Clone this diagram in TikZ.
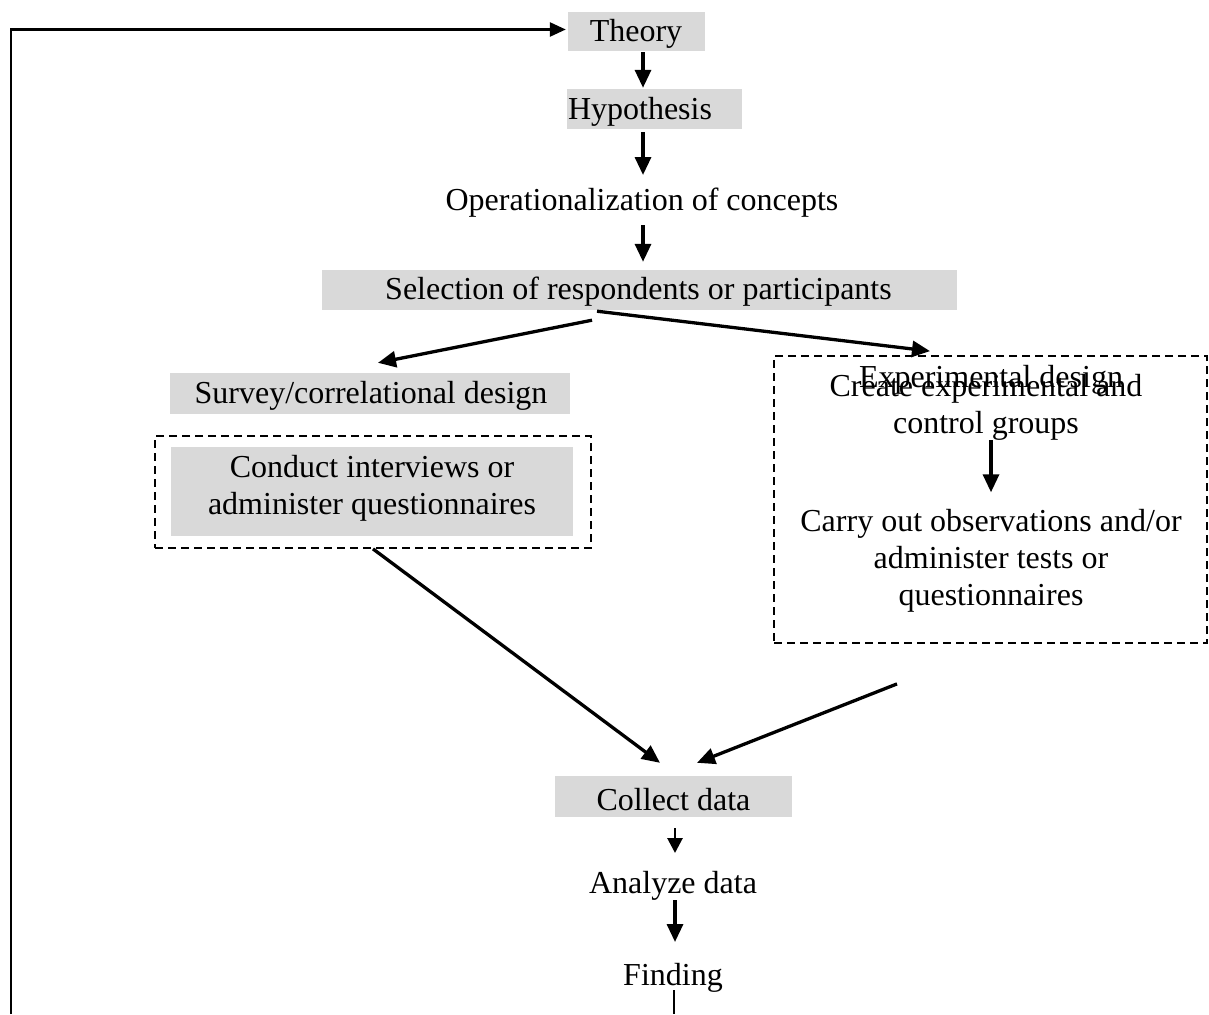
\documentclass[tikz,border=0pt]{standalone}
\usepackage{fontspec}
\setmainfont{Liberation Serif}
\usetikzlibrary{arrows.meta}
\definecolor{boxgray}{HTML}{D9D9D9}
\begin{document}
\begin{tikzpicture}[x=1pt,y=-1pt,
  font=\fontsize{32}{37}\selectfont,
  graybox/.style={fill=boxgray,draw=none,inner sep=0pt},
  frame/.style={draw,line width=1.8pt,dash pattern=on 8pt off 5pt,inner sep=0pt},
  txt/.style={inner sep=0pt,align=center},
  arr/.style={line width=3.3pt,-{Triangle[length=18pt,width=16pt]}},
  feed/.style={line width=2.6pt}]
\useasboundingbox (0,0) rectangle (1209,1014);

% shaded boxes
\node[graybox,minimum width=137pt,minimum height=39pt] (theorybox) at (636.5,31.5) {};
\node[graybox,minimum width=175pt,minimum height=40pt] (hypbox) at (654.5,109) {};
\node[graybox,minimum width=635pt,minimum height=40pt] (selbox) at (639.5,290) {};
\node[graybox,minimum width=400pt,minimum height=41pt] (survbox) at (370,393.5) {};
\node[graybox,minimum width=402pt,minimum height=89pt] (condbox) at (372,491.5) {};
\node[graybox,minimum width=237pt,minimum height=41pt] (collbox) at (673.5,796.5) {};

% dashed frames
\node[frame,minimum width=436pt,minimum height=112pt] (survframe) at (373,492) {};
\node[frame,minimum width=433pt,minimum height=287pt] (expframe) at (990.5,499.5) {};

% texts
\node[txt] (theory) at (636,34) {Theory};
\node[txt] (hyp) at (640,112) {Hypothesis};
\node[txt] (oper) at (642,203) {Operationalization of concepts};
\node[txt] (sel) at (638.5,292) {Selection of respondents or participants};
\node[txt] (surv) at (371,396) {Survey/correlational design};
\node[txt] (cond) at (372,488) {Conduct interviews or\\administer questionnaires};
\node[txt] (expd) at (991,380) {Experimental design};
\node[txt] (create) at (986,407) {Create experimental and\\control groups};
\node[txt] (carry) at (991,561) {Carry out observations and/or\\administer tests or\\questionnaires};
\node[txt] (coll) at (673.5,800) {Collect data};
\node[txt] (anal) at (673,886) {Analyze data};
\node[txt] (find) at (673,978) {Finding};

% connectors
\draw[arr] ([shift={(6.5,1)}]theorybox.south) -- ([shift={(-11.5,-1)}]hypbox.north);
\draw[arr] ([shift={(-11.5,3)}]hypbox.south) -- ([shift={(1,-28)}]oper.center);
\draw[arr] ([shift={(1,22)}]oper.center) -- ([shift={(3.5,-8)}]selbox.north);
\draw[arr] ([shift={(-47.5,10)}]selbox.south) -- ([shift={(8,-10)}]survbox.north);
\draw[arr] ([shift={(-42.5,1)}]selbox.south) -- ([shift={(-60.5,-4)}]expframe.north);
\draw[arr] ([shift={(5,33)}]create.center) -- ([shift={(0,-17)}]carry.north);
\draw[arr] ([shift={(0,0)}]survframe.south) -- ([shift={(-13.5,-13)}]collbox.north);
\draw[arr] ([shift={(-93.5,40)}]expframe.south) -- ([shift={(23.5,-13)}]collbox.north);
\draw[arr,line width=2.8pt,-{Triangle[length=15pt,width=15pt]}] ([shift={(1.5,11)}]collbox.south) -- ([shift={(2,-33)}]anal.center);
\draw[arr] ([shift={(2,14)}]anal.center) -- ([shift={(2,-36)}]find.center);

% feedback loop back to the theory
\coordinate (loopbot) at (674,1014);
\coordinate (loopleft) at (11,1014);
\draw[line width=1.6pt] ([shift={(1,12)}]find.center) -- (loopbot);
\draw[feed,-{Triangle[length=16pt,width=14pt]}] (loopleft) |- ([shift={(-2,-2)}]theorybox.west);
\end{tikzpicture}
\end{document}
